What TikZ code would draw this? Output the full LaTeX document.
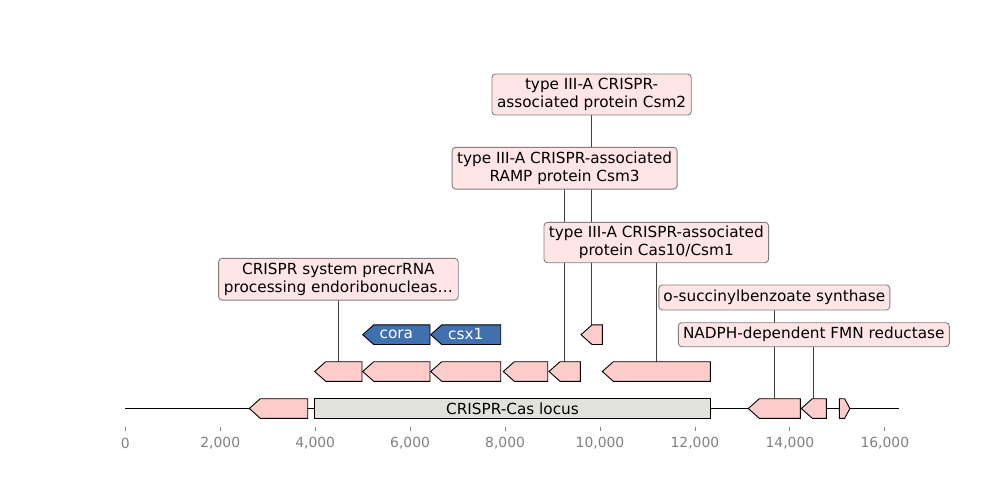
\documentclass[tikz,border=0pt]{standalone}
\usepackage{fontspec}
\setmainfont{DejaVu Sans}
\pgfdeclarelayer{bg}
\pgfsetlayers{bg,main}
\definecolor{genepink}{HTML}{FFCCCC}
\definecolor{geneblue}{HTML}{4070B0}
\definecolor{labfill}{HTML}{FFE5E5}
\definecolor{labedge}{HTML}{7F7F7F}
\definecolor{locusfill}{HTML}{E2E2DC}
\definecolor{tickgray}{HTML}{808080}
\newcommand{\revgene}[5]{%
  \draw[#5] (#2,#4) -- ({min(#2+11,#3)},#4-9.8) -- (#3,#4-9.8) -- (#3,#4+9.8) -- ({min(#2+11,#3)},#4+9.8) -- cycle;
  \coordinate (#1) at ({(#2+#3)/2},#4-9.8);
}
\begin{document}
\begin{tikzpicture}[x=1pt,y=-1pt,
  gene/.style={draw=black, line width=0.9pt, fill=genepink, line join=miter},
  bluegene/.style={gene, fill=geneblue},
  lab/.style={draw=labedge, fill=labfill, rounded corners=3.5pt, line width=0.9pt, align=center, inner sep=0pt,
    font=\fontsize{15.28}{18.3}\selectfont},
  conn/.style={draw=black!75, line width=0.7pt},
  tick/.style={draw=tickgray, line width=0.8pt},
  ticklab/.style={text=tickgray, font=\fontsize{13.9}{16}\selectfont, inner sep=0pt}]
\useasboundingbox (0,0) rectangle (1000,480);
% backbone
\coordinate (bbL) at (125.3,408.6);
\coordinate (bbR) at (899.3,408.6);
\draw[line width=1.4pt] (bbL) -- (bbR);
% locus box
\node[draw=black, line width=0.9pt, fill=locusfill, minimum width=395.6pt, minimum height=19.6pt, inner sep=0pt,
  font=\fontsize{15.28}{18.3}\selectfont] (locus) at (512.5,408.5) {CRISPR-Cas locus};
% bottom row
\revgene{b1}{249.3}{307.7}{408.5}{gene}
\revgene{b2}{748.3}{800.3}{408.5}{gene}
\revgene{b3}{801.3}{826.3}{408.5}{gene}
\draw[gene] (839.3,398.7) -- (844.6,398.7) -- (849.9,408.5) -- (844.6,418.3) -- (839.3,418.3) -- cycle;
\coordinate (b4) at (844.6,398.7);
% middle row
\revgene{m1}{314.7}{362.0}{371.5}{gene}
\revgene{m2}{362.7}{430.0}{371.5}{gene}
\revgene{m3}{430.7}{500.7}{371.5}{gene}
\revgene{m4}{503.3}{547.7}{371.5}{gene}
\revgene{m5}{549.0}{580.3}{371.5}{gene}
\revgene{m6}{602.3}{710.3}{371.5}{gene}
% top row
\revgene{t1}{362.7}{430.0}{334.7}{bluegene}
\revgene{t2}{430.7}{500.7}{334.7}{bluegene}
\revgene{t3}{581.0}{602.3}{334.7}{gene}
\node[text=white, font=\fontsize{15.28}{18.3}\selectfont] (coratext) at (396.3,334.2) {cora};
\node[text=white, font=\fontsize{15.28}{18.3}\selectfont] (csxtext) at (465.7,334.2) {csx1};
% labels
\node[lab, minimum width=239.6pt, minimum height=41.7pt] (lprec) at (338.4,279.2) {CRISPR system precrRNA\\processing endoribonucleas…};
\node[lab, minimum width=199.3pt, minimum height=41pt] (lcsm2) at (591.6,94.5) {type III-A CRISPR-\\associated protein Csm2};
\node[lab, minimum width=225pt, minimum height=41.7pt] (lcsm3) at (564.6,168.2) {type III-A CRISPR-associated\\RAMP protein Csm3};
\node[lab, minimum width=224.6pt, minimum height=40.4pt] (lcas10) at (656.3,242.5) {type III-A CRISPR-associated\\protein Cas10/Csm1};
\node[lab, minimum width=231pt, minimum height=25pt] (losb) at (774.3,297.5) {o-succinylbenzoate synthase};
\node[lab, minimum width=271pt, minimum height=24pt] (lnad) at (813.8,334.7) {NADPH-dependent FMN reductase};
% connectors
\begin{pgfonlayer}{bg}
\draw[conn] (m1) -- (m1 |- lprec.center);
\draw[conn] (t3) -- (t3 |- lcsm2.center);
\draw[conn] (m5) -- (m5 |- lcsm3.center);
\draw[conn] (m6) -- (m6 |- lcas10.center);
\draw[conn] (b2) -- (b2 |- losb.center);
\draw[conn] (b3) -- (b3 |- lnad.center);
\end{pgfonlayer}
% axis ticks
\foreach \v/\t in {0/0,2000/{2,000},4000/{4,000},6000/{6,000},8000/{8,000},10000/{10,000},12000/{12,000},14000/{14,000},16000/{16,000}}{
  \coordinate (tk\v) at ({125.3+\v*0.047463},426.7);
  \draw[tick] (tk\v) -- ++(0,4);
  \node[ticklab] (tl\v) at ({125.3+\v*0.047463},443) {\t};
}
\end{tikzpicture}
\end{document}
